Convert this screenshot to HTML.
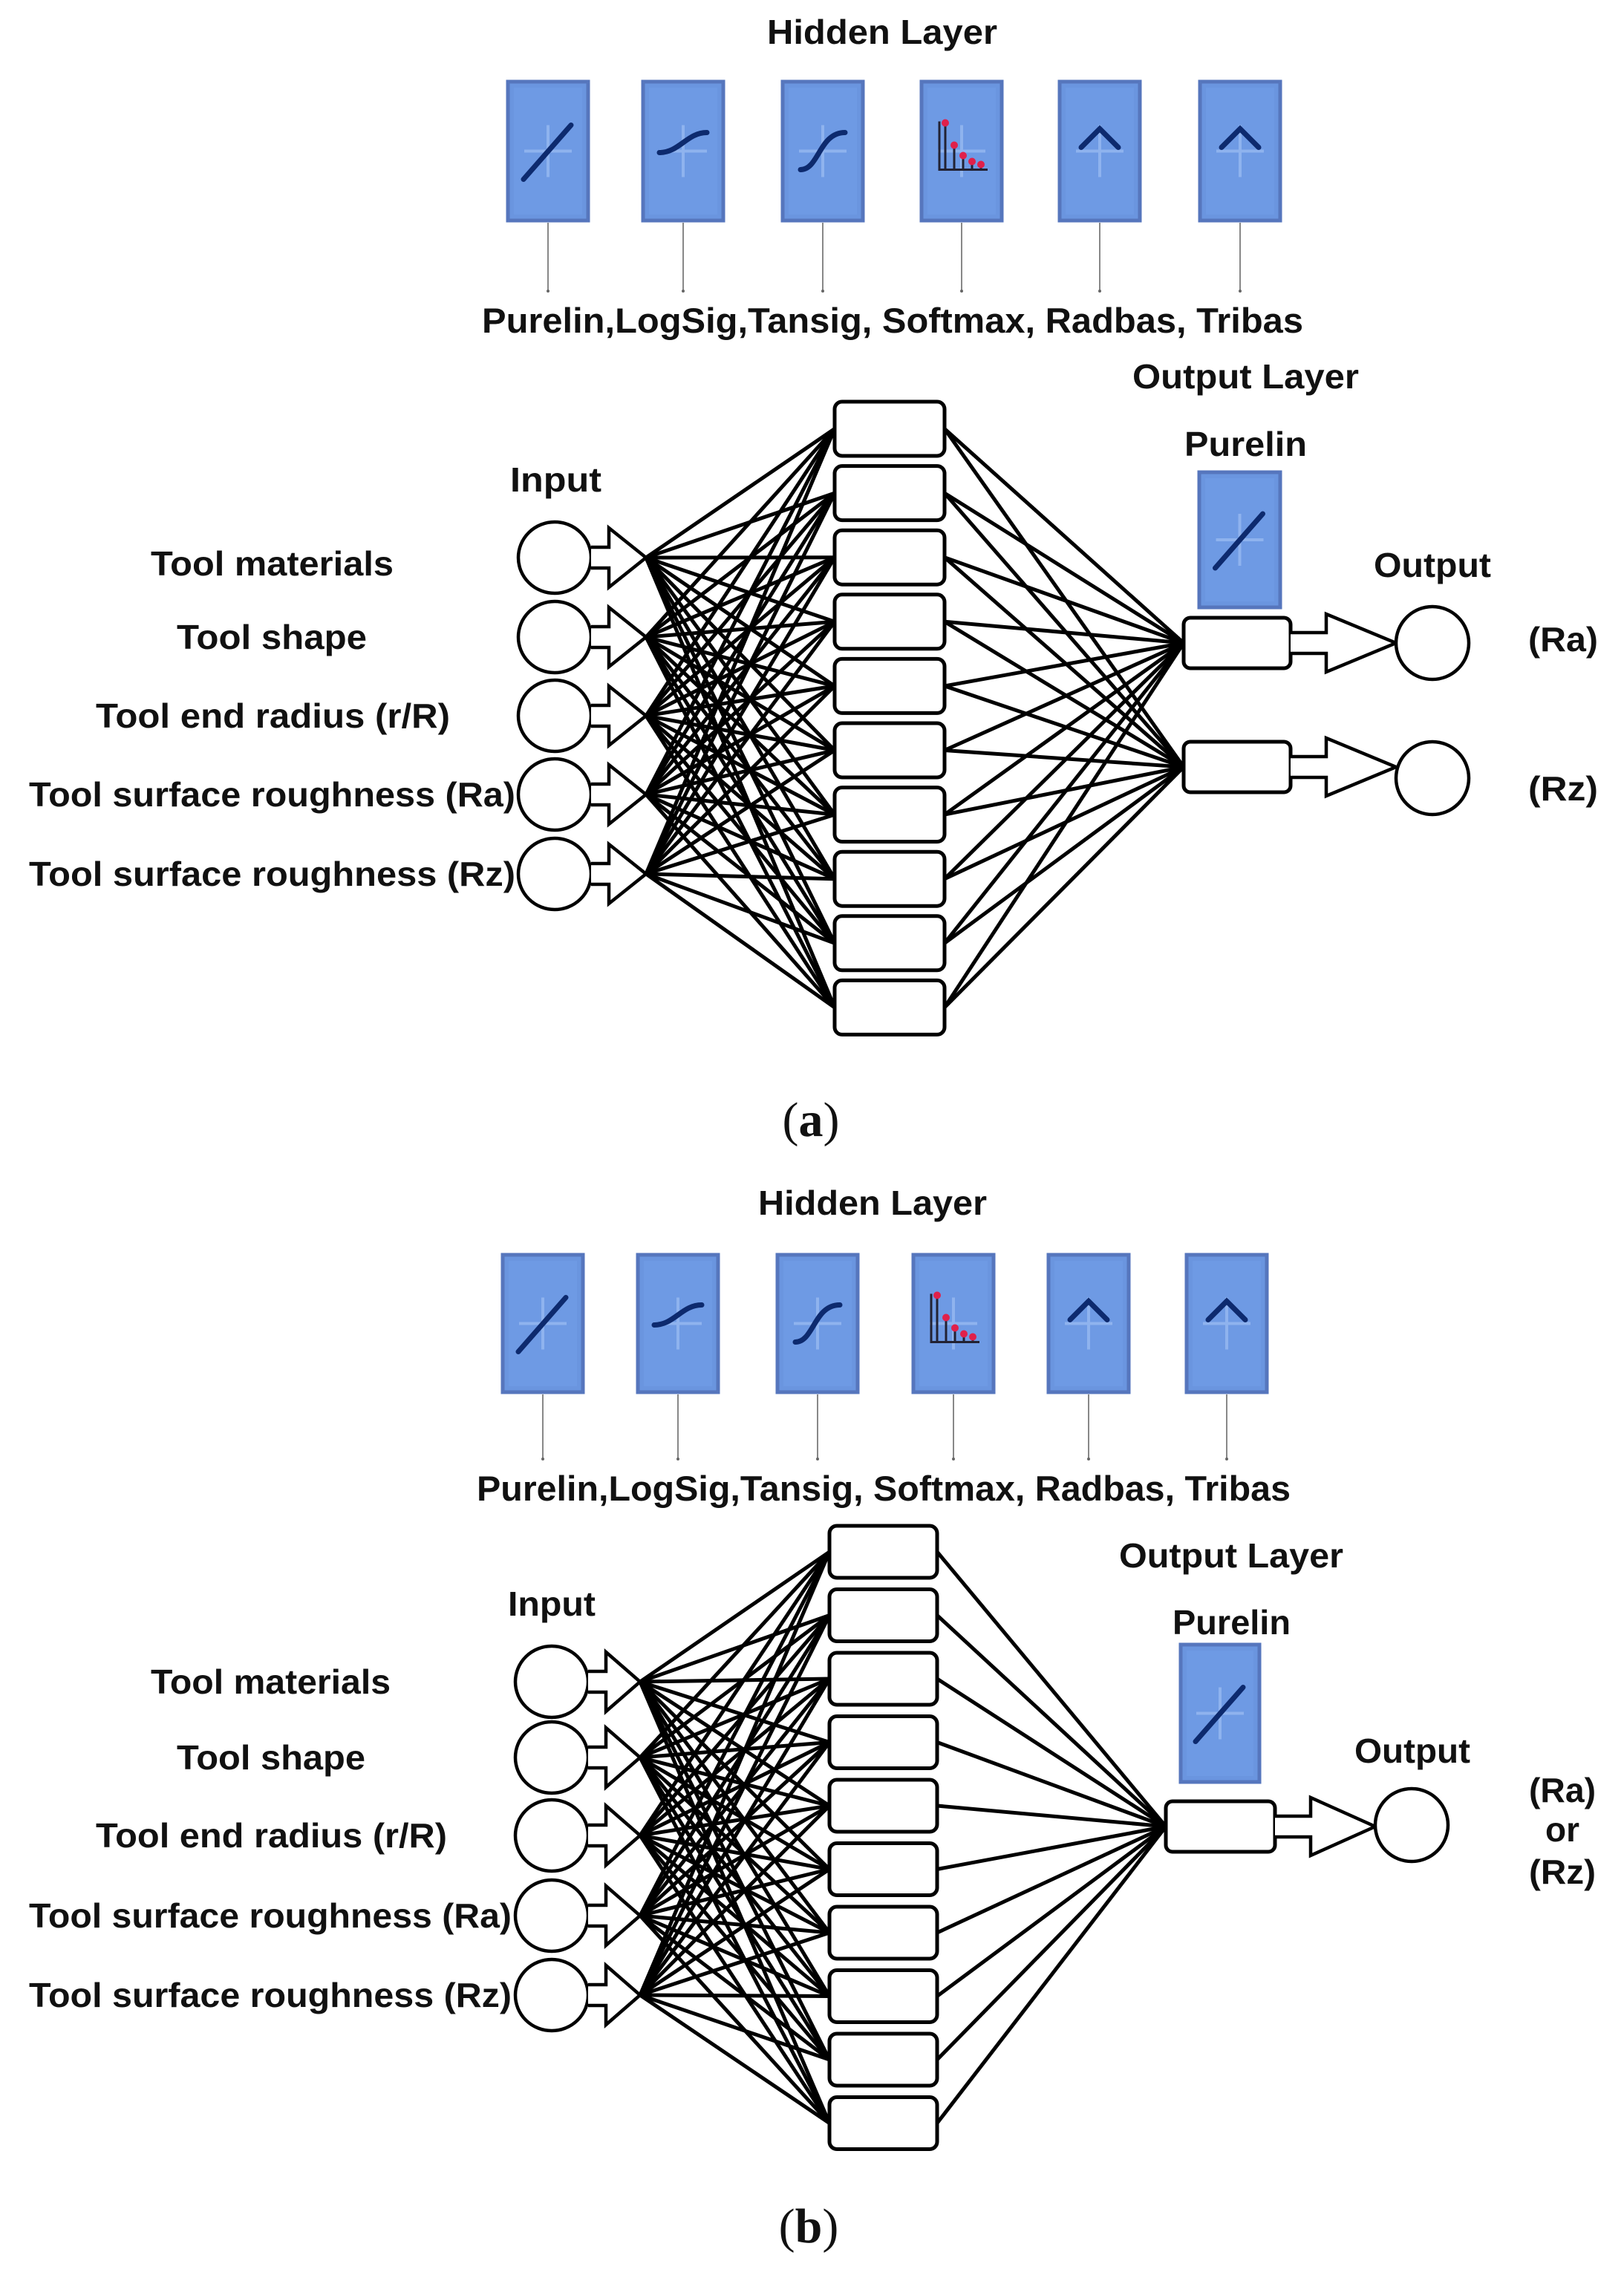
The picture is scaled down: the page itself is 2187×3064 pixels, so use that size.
<!DOCTYPE html>
<html><head><meta charset="utf-8"><style>
html,body{margin:0;padding:0;background:#fff;}
svg{display:block;}
text{font-family:"Liberation Sans",Arial,sans-serif;font-weight:bold;fill:#111;}
.s{font-family:"Liberation Serif",serif;font-weight:normal;}
</style></head><body>
<svg id="g" width="2187" height="3064" viewBox="0 0 2187 3064" xmlns="http://www.w3.org/2000/svg">
<g id="shapes"></g>
<text x="1033" y="59" font-size="46" textLength="310" lengthAdjust="spacingAndGlyphs">Hidden Layer</text>
<text x="649" y="448" font-size="47" textLength="1106" lengthAdjust="spacingAndGlyphs">Purelin,LogSig,Tansig, Softmax, Radbas, Tribas</text>
<text x="1525" y="523" font-size="46" textLength="305" lengthAdjust="spacingAndGlyphs">Output Layer</text>
<text x="1595" y="614" font-size="46" textLength="165" lengthAdjust="spacingAndGlyphs">Purelin</text>
<text x="687" y="662" font-size="46" textLength="123" lengthAdjust="spacingAndGlyphs">Input</text>
<text x="203" y="775" font-size="46" textLength="327" lengthAdjust="spacingAndGlyphs">Tool materials</text>
<text x="238" y="874" font-size="46" textLength="256" lengthAdjust="spacingAndGlyphs">Tool shape</text>
<text x="129" y="980" font-size="46" textLength="477" lengthAdjust="spacingAndGlyphs">Tool end radius (r/R)</text>
<text x="39" y="1086" font-size="46" textLength="655" lengthAdjust="spacingAndGlyphs">Tool surface roughness (Ra)</text>
<text x="39" y="1193" font-size="46" textLength="655" lengthAdjust="spacingAndGlyphs">Tool surface roughness (Rz)</text>
<text x="1850" y="777" font-size="46" textLength="158" lengthAdjust="spacingAndGlyphs">Output</text>
<text x="2058" y="877" font-size="46" textLength="94" lengthAdjust="spacingAndGlyphs">(Ra)</text>
<text x="2058" y="1078" font-size="46" textLength="94" lengthAdjust="spacingAndGlyphs">(Rz)</text>
<text class="s" x="1092" y="1530" font-size="66" text-anchor="middle">(<tspan font-weight="bold">a</tspan>)</text>
<text x="1021" y="1636" font-size="46" textLength="308" lengthAdjust="spacingAndGlyphs">Hidden Layer</text>
<text x="642" y="2021" font-size="47" textLength="1096" lengthAdjust="spacingAndGlyphs">Purelin,LogSig,Tansig, Softmax, Radbas, Tribas</text>
<text x="1507" y="2111" font-size="46" textLength="302" lengthAdjust="spacingAndGlyphs">Output Layer</text>
<text x="1579" y="2201" font-size="46" textLength="159" lengthAdjust="spacingAndGlyphs">Purelin</text>
<text x="684" y="2176" font-size="46" textLength="118" lengthAdjust="spacingAndGlyphs">Input</text>
<text x="203" y="2281" font-size="46" textLength="323" lengthAdjust="spacingAndGlyphs">Tool materials</text>
<text x="238" y="2383" font-size="46" textLength="254" lengthAdjust="spacingAndGlyphs">Tool shape</text>
<text x="129" y="2488" font-size="46" textLength="473" lengthAdjust="spacingAndGlyphs">Tool end radius (r/R)</text>
<text x="39" y="2596" font-size="46" textLength="650" lengthAdjust="spacingAndGlyphs">Tool surface roughness (Ra)</text>
<text x="39" y="2703" font-size="46" textLength="650" lengthAdjust="spacingAndGlyphs">Tool surface roughness (Rz)</text>
<text x="1824" y="2374" font-size="46" textLength="156" lengthAdjust="spacingAndGlyphs">Output</text>
<text x="2059" y="2427" font-size="46" textLength="90" lengthAdjust="spacingAndGlyphs">(Ra)</text>
<text x="2104" y="2480" font-size="46" text-anchor="middle">or</text>
<text x="2059" y="2537" font-size="46" textLength="90" lengthAdjust="spacingAndGlyphs">(Rz)</text>
<text class="s" x="1089" y="3020" font-size="66" text-anchor="middle">(<tspan font-weight="bold">b</tspan>)</text>
</svg>
<script>
var G=document.getElementById("shapes"),h="";
function L(x1,y1,x2,y2,w,c){h+='<line x1="'+x1+'" y1="'+y1+'" x2="'+x2+'" y2="'+y2+'" stroke="'+(c||"#000")+'" stroke-width="'+(w||5)+'"/>';}
function icon(x,y,w,hh,t){
 h+='<rect x="'+x+'" y="'+y+'" width="'+w+'" height="'+hh+'" fill="#6a95df" stroke="#5676bd" stroke-width="5"/>';
 h+='<rect x="'+(x+8)+'" y="'+(y+8)+'" width="'+(w-16)+'" height="'+(hh-16)+'" fill="#6e9ae4"/>';
 var cx=x+w/2,cy=y+hh/2;
 L(cx,cy-35,cx,cy+35,4,"#8fb3ee");L(cx-32,cy,cx+32,cy,4,"#8fb3ee");
 var p="";
 if(t==0)p="M"+(cx-33)+","+(cy+38)+" L"+(cx+31)+","+(cy-35);
 if(t==1)p="M"+(cx-32)+","+(cy+2)+" C"+(cx-5)+","+(cy+2)+" "+(cx+5)+","+(cy-25)+" "+(cx+32)+","+(cy-25);
 if(t==2)p="M"+(cx-30)+","+(cy+25)+" C"+(cx-5)+","+(cy+25)+" "+(cx-5)+","+(cy-25)+" "+(cx+30)+","+(cy-25);
 if(t==4||t==5)p="M"+(cx-25)+","+(cy-5)+" L"+(cx)+","+(cy-30)+" L"+(cx+25)+","+(cy-5);
 if(t==3){
  h+='<path d="M'+(cx-30)+','+(cy-40)+' V'+(cy+25)+' H'+(cx+35)+'" stroke="#223" stroke-width="3" fill="none"/>';
  var xs=[-22,-10,2,14,26],ys=[-38,-8,6,14,18];
  for(var i=0;i<5;i++){L(cx+xs[i],cy+25,cx+xs[i],cy+ys[i],3,"#223");h+='<circle cx="'+(cx+xs[i])+'" cy="'+(cy+ys[i])+'" r="5" fill="#e0204a"/>';}
 } else h+='<path d="'+p+'" stroke="#0d2a6e" stroke-width="7" fill="none" stroke-linecap="round"/>';
}
function barrow(x0,x1,x2,cy,sh,hh){
 h+='<path d="M'+x0+','+(cy-sh)+' H'+x1+' V'+(cy-hh)+' L'+x2+','+cy+' L'+x1+','+(cy+hh)+' V'+(cy+sh)+' H'+x0+'" fill="#fff" stroke="#000" stroke-width="4.5" stroke-linejoin="miter"/>';
}
function panel(P){
 P.icons.forEach(function(x,i){icon(x,P.iy,108,P.ih,i);L(x+54,P.iy+P.ih+3,x+54,P.ay,2,"#888");h+='<circle cx="'+(x+54)+'" cy="'+P.ay+'" r="2" fill="#666"/>';});
 icon(P.ob[0],P.ob[1],P.ob[2],P.ob[3],0);
 var hc=[];for(var j=0;j<10;j++)hc.push(P.hy+P.hp*j+P.hh/2);
 P.cy.forEach(function(c){hc.forEach(function(y){L(P.conv,c,P.hx,y,5);});});
 P.oc.forEach(function(o){hc.forEach(function(y){L(P.hx+P.hw,y,P.ox,o,5);});});
 hc.forEach(function(y){h+='<rect x="'+P.hx+'" y="'+(y-P.hh/2)+'" width="'+P.hw+'" height="'+P.hh+'" rx="10" fill="#fff" stroke="#000" stroke-width="5"/>';});
 P.cy.forEach(function(c){h+='<ellipse cx="'+P.cx+'" cy="'+c+'" rx="49" ry="48" fill="#fff" stroke="#000" stroke-width="4.5"/>';barrow(P.cx+49,P.cx+73,P.conv,c,14,40);});
 P.oc.forEach(function(o,k){h+='<rect x="'+P.ox+'" y="'+(o-34)+'" width="'+P.ow+'" height="68" rx="9" fill="#fff" stroke="#000" stroke-width="5"/>';
  barrow(P.ox+P.ow,P.ox+P.ow+48,P.ocx-49,o,14,39);h+='<ellipse cx="'+P.ocx+'" cy="'+(P.occ[k])+'" rx="49" ry="49" fill="#fff" stroke="#000" stroke-width="4.5"/>';});
}
panel({icons:[684,866,1054,1241,1427,1616],iy:110,ih:187,ay:392,ob:[1615,636,109,182],
 hx:1124,hw:148,hy:541,hp:86.6,hh:73,cx:747,conv:870,cy:[751,858,964,1070,1177],
 ox:1594,ow:144,oc:[866,1033],ocx:1929,occ:[866,1048]});
panel({icons:[677,859,1047,1230,1412,1598],iy:1690,ih:185,ay:1965,ob:[1590,2215,106,185],
 hx:1117,hw:145,hy:2055,hp:85.5,hh:70,cx:743,conv:862,cy:[2265,2367,2472,2580,2687],
 ox:1570,ow:147,oc:[2460],ocx:1901,occ:[2458]});
G.innerHTML=h;
</script>
</body></html>
